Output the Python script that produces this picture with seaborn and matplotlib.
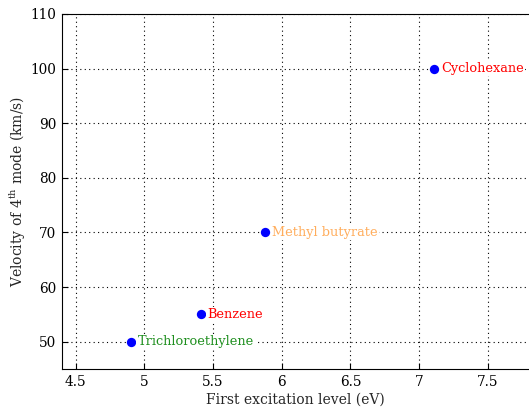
import matplotlib
matplotlib.use("Agg")
import matplotlib.pyplot as plt
import seaborn as sns
import pandas as pd

solvents = ["Trichloroethylene", "Benzene", "Methyl butyrate", "Cyclohexane"]
excitation_ev = [4.9, 5.41, 5.88, 7.11]
velocity_kms = [50, 55, 70, 100]
label_colors = ["#1f8f1f", "#ff0000", "#ffad5c", "#ff0000"]
x_ticks = [4.5, 5, 5.5, 6, 6.5, 7, 7.5]
y_ticks = [50, 60, 70, 80, 90, 100, 110]

sns.set_style("ticks")
plt.rcParams["font.family"] = ["DejaVu Serif"]
plt.rcParams["mathtext.fontset"] = "dejavuserif"

df = pd.DataFrame({"x": excitation_ev, "y": velocity_kms, "name": solvents})

fig = plt.figure(figsize=(5.29, 4.11), dpi=100)
ax = fig.add_axes([0.117, 0.102, 0.883, 0.864])

sns.scatterplot(data=df, x="x", y="y", ax=ax, color="#0000ff", s=45,
                edgecolor="#0000ff", linewidth=0, zorder=3)

for name, xv, yv, c in zip(solvents, excitation_ev, velocity_kms, label_colors):
    ax.annotate(name, (xv, yv), xytext=(5, 0), textcoords="offset points",
                ha="left", va="center", color=c, fontsize=9.3, zorder=4,
                bbox=dict(boxstyle="square,pad=0.1", facecolor="white",
                          edgecolor="none"))

ax.set_xlim(4.4, 7.8)
ax.set_ylim(45, 110)
ax.set_xticks(x_ticks)
ax.set_xticklabels([f"{t:g}" for t in x_ticks])
ax.set_yticks(y_ticks)
ax.grid(True, linestyle=(0, (1, 3)), color="black", linewidth=0.8)
ax.tick_params(direction="in", length=4, labelsize=9.8, colors="black",
               top=False, right=False, pad=4)
for s in ["left", "bottom", "top"]:
    ax.spines[s].set_color("black")
    ax.spines[s].set_linewidth(0.8)
ax.spines["right"].set_visible(False)

ax.set_xlabel("First excitation level (eV)", fontsize=10, labelpad=3)
ax.set_ylabel(r"Velocity of 4$^{\mathrm{th}}$ mode (km/s)", fontsize=10, labelpad=2)

fig.savefig("out.png", dpi=100)
